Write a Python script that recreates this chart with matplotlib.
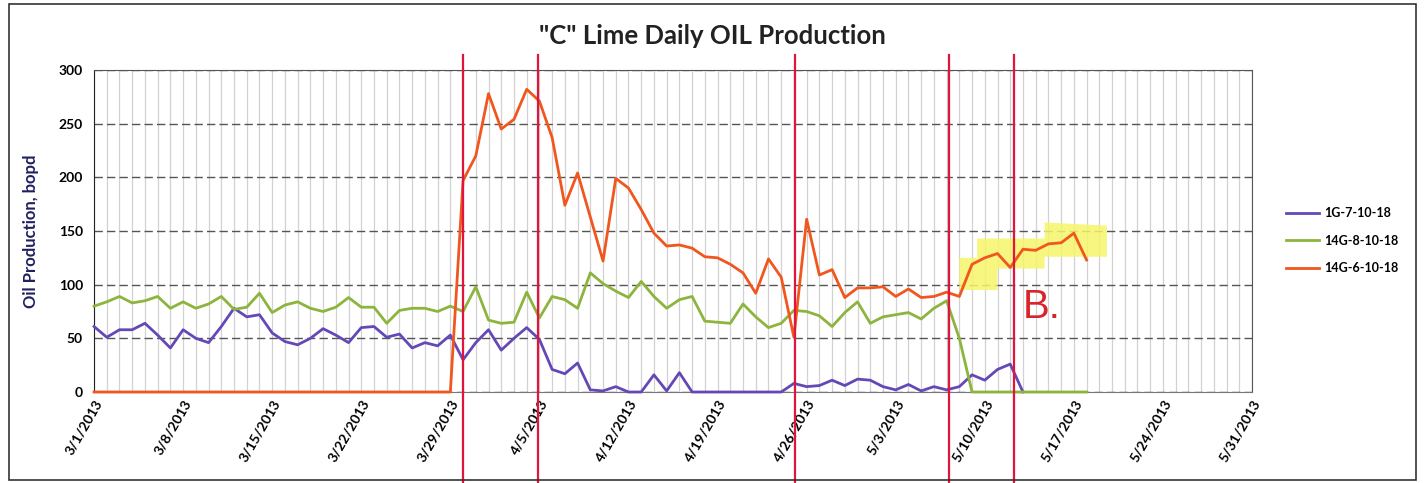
import matplotlib
matplotlib.use("Agg")
import matplotlib.pyplot as plt
import matplotlib.ticker as ticker
from matplotlib.patches import Rectangle, Polygon
import numpy as np

# daily values, day 0 = 3/1/2013
well_1g = [61, 51, 58, 58, 64, 53, 41, 58, 50, 46, 61, 78, 70, 72, 55, 47, 44, 50, 59, 53,
           46, 60, 61, 51, 54, 41, 46, 43, 53, 30, 46, 58, 39, 50, 60, 49, 21, 17, 27, 2,
           1, 5, 0, 0, 16, 1, 18, 0, 0, 0, 0, 0, 0, 0, 0, 8, 5, 6, 11, 6,
           12, 11, 5, 2, 7, 1, 5, 2, 5, 16, 11, 21, 26, 0]
well_14g8 = [80, 84, 89, 83, 85, 89, 78, 84, 78, 82, 89, 77, 79, 92, 74, 81, 84, 78, 75, 79,
             88, 79, 79, 64, 76, 78, 78, 75, 80, 75, 98, 67, 64, 65, 93, 69, 89, 86, 78, 111,
             101, 94, 88, 103, 89, 78, 86, 89, 66, 65, 64, 82, 70, 60, 64, 76, 75, 71, 61, 74,
             84, 64, 70, 72, 74, 68, 78, 85, 50, 0, 0, 0, 0, 0, 0, 0, 0, 0, 0]
well_14g6 = [0] * 29 + [197, 220, 278, 245, 254, 282, 271, 237, 174, 204, 163,
                        122, 199, 190, 170, 148, 136, 137, 134, 126, 125, 119, 111, 92, 124,
                        107, 51, 161, 109, 114, 88, 97, 97, 98, 89, 96, 88, 89, 93,
                        89, 119, 125, 129, 116, 133, 132, 138, 139, 148, 123]
series_names = ["1G-7-10-18", "14G-8-10-18", "14G-6-10-18"]
tick_labels = ["3/1/2013", "3/8/2013", "3/15/2013", "3/22/2013", "3/29/2013", "4/5/2013",
               "4/12/2013", "4/19/2013", "4/26/2013", "5/3/2013", "5/10/2013", "5/17/2013",
               "5/24/2013", "5/31/2013"]
event_days = [29.0, 34.9, 55.1, 67.2, 72.3]

colors = ["#6548B8", "#8DB43C", "#F0561E"]
plt.rcParams['font.family'] = ['Lato', 'DejaVu Sans']

fig = plt.figure(figsize=(14.25, 4.83), dpi=100)
ax = fig.add_axes([0.066, 0.1884, 0.8126, 0.6667])

for data, name, c in zip([well_1g, well_14g8, well_14g6], series_names, colors):
    ax.plot(np.arange(len(data)), data, color=c, lw=2.0, label=name, zorder=4, clip_on=False)

# yellow highlighter behind the late 14G-6 run
hl = [(68.0, 95), (71.0, 95), (71.0, 115), (74.7, 115), (74.7, 126), (79.6, 126),
      (79.6, 155), (74.7, 158), (74.7, 143), (69.4, 143), (69.4, 125), (68.0, 125)]
ax.add_patch(Polygon(hl, closed=True, facecolor="#F5F56A", edgecolor="none", alpha=0.85, zorder=2))

for d in event_days:
    ax.axvline(d, ymin=-0.283, ymax=1.047, color="#E0143C", lw=1.6, clip_on=False, zorder=5)

ax.text(73.0, 79, "B.", color="#D9242E", fontsize=29, family="Liberation Sans",
        ha="left", va="center", zorder=6)

ax.set_xlim(0, 91)
ax.set_ylim(0, 300)
ax.xaxis.set_minor_locator(ticker.MultipleLocator(1))
ax.yaxis.set_major_locator(ticker.MultipleLocator(50))
ax.set_xticks(np.arange(0, 92, 7))
ax.set_xticklabels(tick_labels, rotation=60, ha="right", rotation_mode="anchor",
                   fontsize=10, fontweight="bold")
for lab in ax.get_yticklabels():
    lab.set_fontweight("bold")
ax.tick_params(axis="y", labelsize=10, length=0, pad=8)
ax.tick_params(axis="x", length=0, pad=4)
ax.tick_params(which="minor", length=0)

ax.grid(which="both", axis="x", color="#D2D2D2", lw=0.9)
ax.grid(which="major", axis="y", color="#555555", lw=1.0, linestyle=(0, (6, 3)))
ax.set_axisbelow(True)
for s in ["top", "right"]:
    ax.spines[s].set_color("#555555")
ax.spines["left"].set_color("#222222")
ax.spines["bottom"].set_color("#777777")

ax.set_ylabel("Oil Production, bopd", fontsize=12, fontweight="bold", color="#202060", labelpad=14)
fig.text(0.50, 0.925, '"C" Lime Daily OIL Production', ha="center", va="center",
         fontsize=18.5, fontweight="bold", color="#222222")

leg = ax.legend(loc="center left", bbox_to_anchor=(1.02, 0.47), frameon=False,
                fontsize=9, handlelength=2.6, labelspacing=1.25, handletextpad=0.4)
for t in leg.get_texts():
    t.set_fontweight("bold")

fig.add_artist(Rectangle((0.006, 0.006), 0.988, 0.986, transform=fig.transFigure,
                         fill=False, edgecolor="#333333", lw=1.2))

fig.savefig("out.png", dpi=100)
